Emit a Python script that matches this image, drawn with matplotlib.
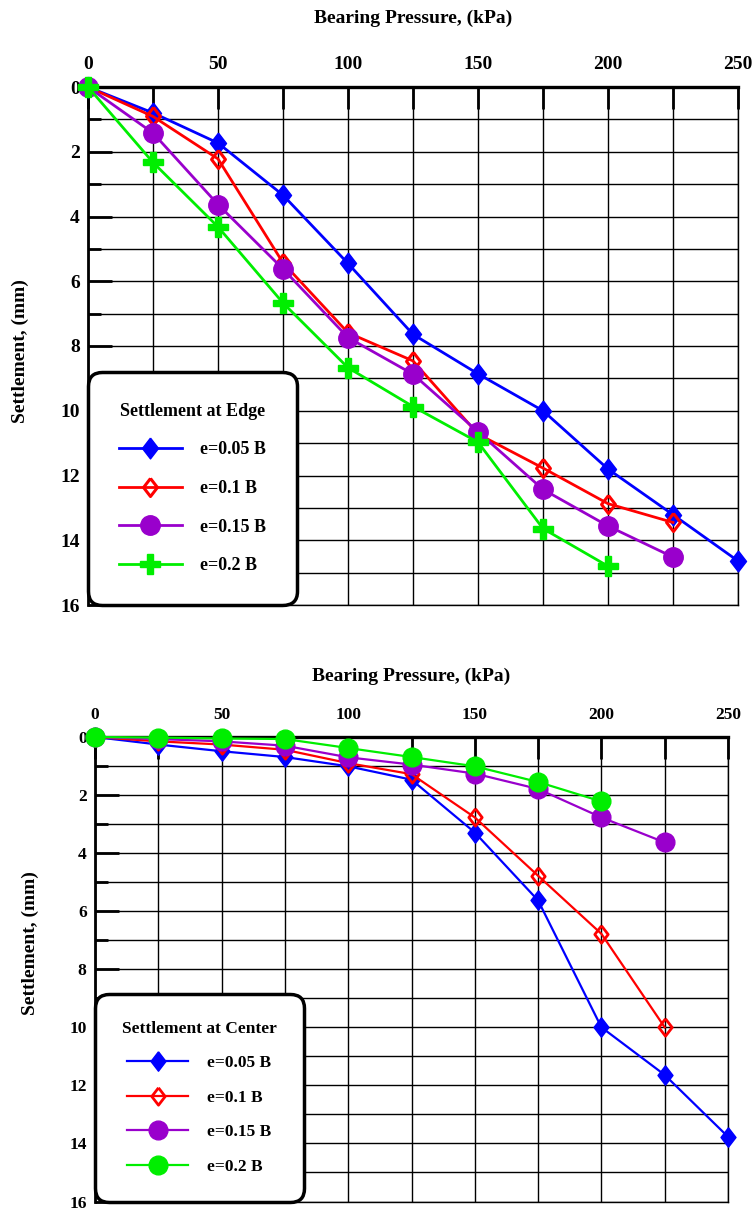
import matplotlib
matplotlib.use("Agg")
import matplotlib.pyplot as plt
from matplotlib.ticker import MultipleLocator

plt.rcParams['font.family'] = ['Liberation Serif', 'DejaVu Serif']
plt.rcParams['font.weight'] = 'bold'

pressure = [0, 25, 50, 75, 100, 125, 150, 175, 200, 225, 250]
labels = ['e=0.05 B', 'e=0.1 B', 'e=0.15 B', 'e=0.2 B']

# Settlement at edge (mm)
edge_005 = [0, 0.80, 1.73, 3.34, 5.45, 7.64, 8.86, 10.0, 11.8, 13.21, 14.64]
edge_010 = [0, 0.91, 2.22, 5.43, 7.59, 8.46, 10.72, 11.77, 12.87, 13.45]
edge_015 = [0, 1.42, 3.63, 5.62, 7.74, 8.87, 10.65, 12.43, 13.56, 14.52]
edge_020 = [0, 2.33, 4.32, 6.67, 8.67, 9.87, 10.97, 13.64, 14.80]

# Settlement at center (mm)
center_005 = [0, 0.26, 0.49, 0.69, 1.01, 1.47, 3.29, 5.63, 10.0, 11.64, 13.77]
center_010 = [0, 0.15, 0.26, 0.44, 0.90, 1.28, 2.77, 4.78, 6.78, 10.0]
center_015 = [0, 0.07, 0.15, 0.30, 0.70, 0.95, 1.26, 1.79, 2.77, 3.63]
center_020 = [0, 0.02, 0.05, 0.07, 0.38, 0.69, 1.01, 1.55, 2.22]

colors = ['#0000ff', '#ff0000', '#9900cc', '#00ee00']
diamond = [(0, 1), (0.77, 0), (0, -1), (-0.77, 0), (0, 1)]

fig = plt.figure(figsize=(7.52, 12.11), dpi=100)
W, H = 752, 1211
ax1 = fig.add_axes([88 / W, 1 - 605 / H, 650 / W, 518 / H])
ax2 = fig.add_axes([95 / W, 1 - 1201.5 / H, 633 / W, 464.5 / H])


def style_axes(ax, tick_fs, label_x, label_y):
    ax.set_xlim(0, 250)
    ax.set_ylim(16, 0)
    ax.xaxis.tick_top()
    ax.xaxis.set_label_position('top')
    xt = list(range(0, 251, 25))
    ax.set_xticks(xt)
    ax.set_xticklabels([str(v) if v % 50 == 0 else '' for v in xt])
    ax.yaxis.set_major_locator(MultipleLocator(2))
    ax.yaxis.set_minor_locator(MultipleLocator(1))
    ax.tick_params(axis='x', which='major', direction='in', length=16, width=2,
                   labelsize=tick_fs, pad=10, top=True, bottom=False)
    ax.tick_params(axis='y', which='major', direction='in', length=17, width=2,
                   labelsize=tick_fs, pad=6)
    ax.tick_params(axis='y', which='minor', direction='in', length=9, width=2)
    for lab in ax.get_xticklabels() + ax.get_yticklabels():
        lab.set_fontweight('bold')
    ax.grid(True, which='both', color='black', linewidth=1.0)
    ax.set_axisbelow(True)
    ax.spines['top'].set_linewidth(2.4)
    ax.spines['left'].set_linewidth(2.0)
    ax.spines['right'].set_linewidth(1.0)
    ax.spines['bottom'].set_linewidth(1.0)
    ax.set_xlabel('Bearing Pressure, (kPa)', fontsize=14, fontweight='bold')
    ax.set_ylabel('Settlement, (mm)', fontsize=14, fontweight='bold')
    ax.xaxis.set_label_coords(0.5, label_x)
    ax.xaxis.label.set_verticalalignment('center')
    ax.yaxis.set_label_coords(label_y[0], label_y[1])
    ax.yaxis.label.set_verticalalignment('center')


# Top chart: edge
style_axes(ax1, 14, (605 - 18) / 518, (-0.104, 0.49))
h = []
h += ax1.plot(pressure[:len(edge_005)], edge_005, color=colors[0], lw=2,
              marker=diamond, ms=15, mec=colors[0], mfc=colors[0], clip_on=False, zorder=5)
h += ax1.plot(pressure[:len(edge_010)], edge_010, color=colors[1], lw=2,
              marker=diamond, ms=13, mec=colors[1], mfc='none', mew=2.2, clip_on=False, zorder=5)
h += ax1.plot(pressure[:len(edge_015)], edge_015, color=colors[2], lw=2,
              marker='o', ms=14, mec=colors[2], mfc=colors[2], clip_on=False, zorder=5)
h += ax1.plot(pressure[:len(edge_020)], edge_020, color=colors[3], lw=2,
              marker='P', ms=14.5, mec=colors[3], mfc=colors[3], clip_on=False, zorder=5)
leg1 = ax1.legend(h, labels, title='Settlement at Edge', loc='lower left',
                  bbox_to_anchor=(0.0, 0.0), borderaxespad=0.0,
                  title_fontproperties={'weight': 'bold', 'size': 13},
                  prop={'weight': 'bold', 'size': 13},
                  handlelength=3.5, handletextpad=1.0, labelspacing=1.2,
                  borderpad=1.7, frameon=True, fancybox=True, framealpha=1,
                  edgecolor='black', facecolor='white')
leg1.get_frame().set_linewidth(2.5)
leg1.get_frame().set_boxstyle('round,pad=0,rounding_size=0.8')
leg1.set_zorder(10)

# Bottom chart: center
style_axes(ax2, 12.5, (1201.5 - 676) / 464.5, (-0.102, 0.556))
h2 = []
h2 += ax2.plot(pressure[:len(center_005)], center_005, color=colors[0], lw=1.6,
               marker=diamond, ms=14, mec=colors[0], mfc=colors[0], clip_on=False, zorder=5)
h2 += ax2.plot(pressure[:len(center_010)], center_010, color=colors[1], lw=1.6,
               marker=diamond, ms=12.5, mec=colors[1], mfc='none', mew=2.0, clip_on=False, zorder=5)
h2 += ax2.plot(pressure[:len(center_015)], center_015, color=colors[2], lw=1.6,
               marker='o', ms=13.5, mec=colors[2], mfc=colors[2], clip_on=False, zorder=5)
h2 += ax2.plot(pressure[:len(center_020)], center_020, color=colors[3], lw=1.6,
               marker='o', ms=13.5, mec=colors[3], mfc=colors[3], clip_on=False, zorder=5)
leg2 = ax2.legend(h2, labels, title='Settlement at Center', loc='lower left',
                  bbox_to_anchor=(0.0, 0.0), borderaxespad=0.0,
                  title_fontproperties={'weight': 'bold', 'size': 12.5},
                  prop={'weight': 'bold', 'size': 12.5},
                  handlelength=3.5, handletextpad=1.1, labelspacing=1.05,
                  borderpad=1.55, frameon=True, fancybox=True, framealpha=1,
                  edgecolor='black', facecolor='white')
leg2.get_frame().set_linewidth(2.5)
leg2.get_frame().set_boxstyle('round,pad=0,rounding_size=0.8')
leg2.set_zorder(10)

fig.savefig('out.png', dpi=100)
